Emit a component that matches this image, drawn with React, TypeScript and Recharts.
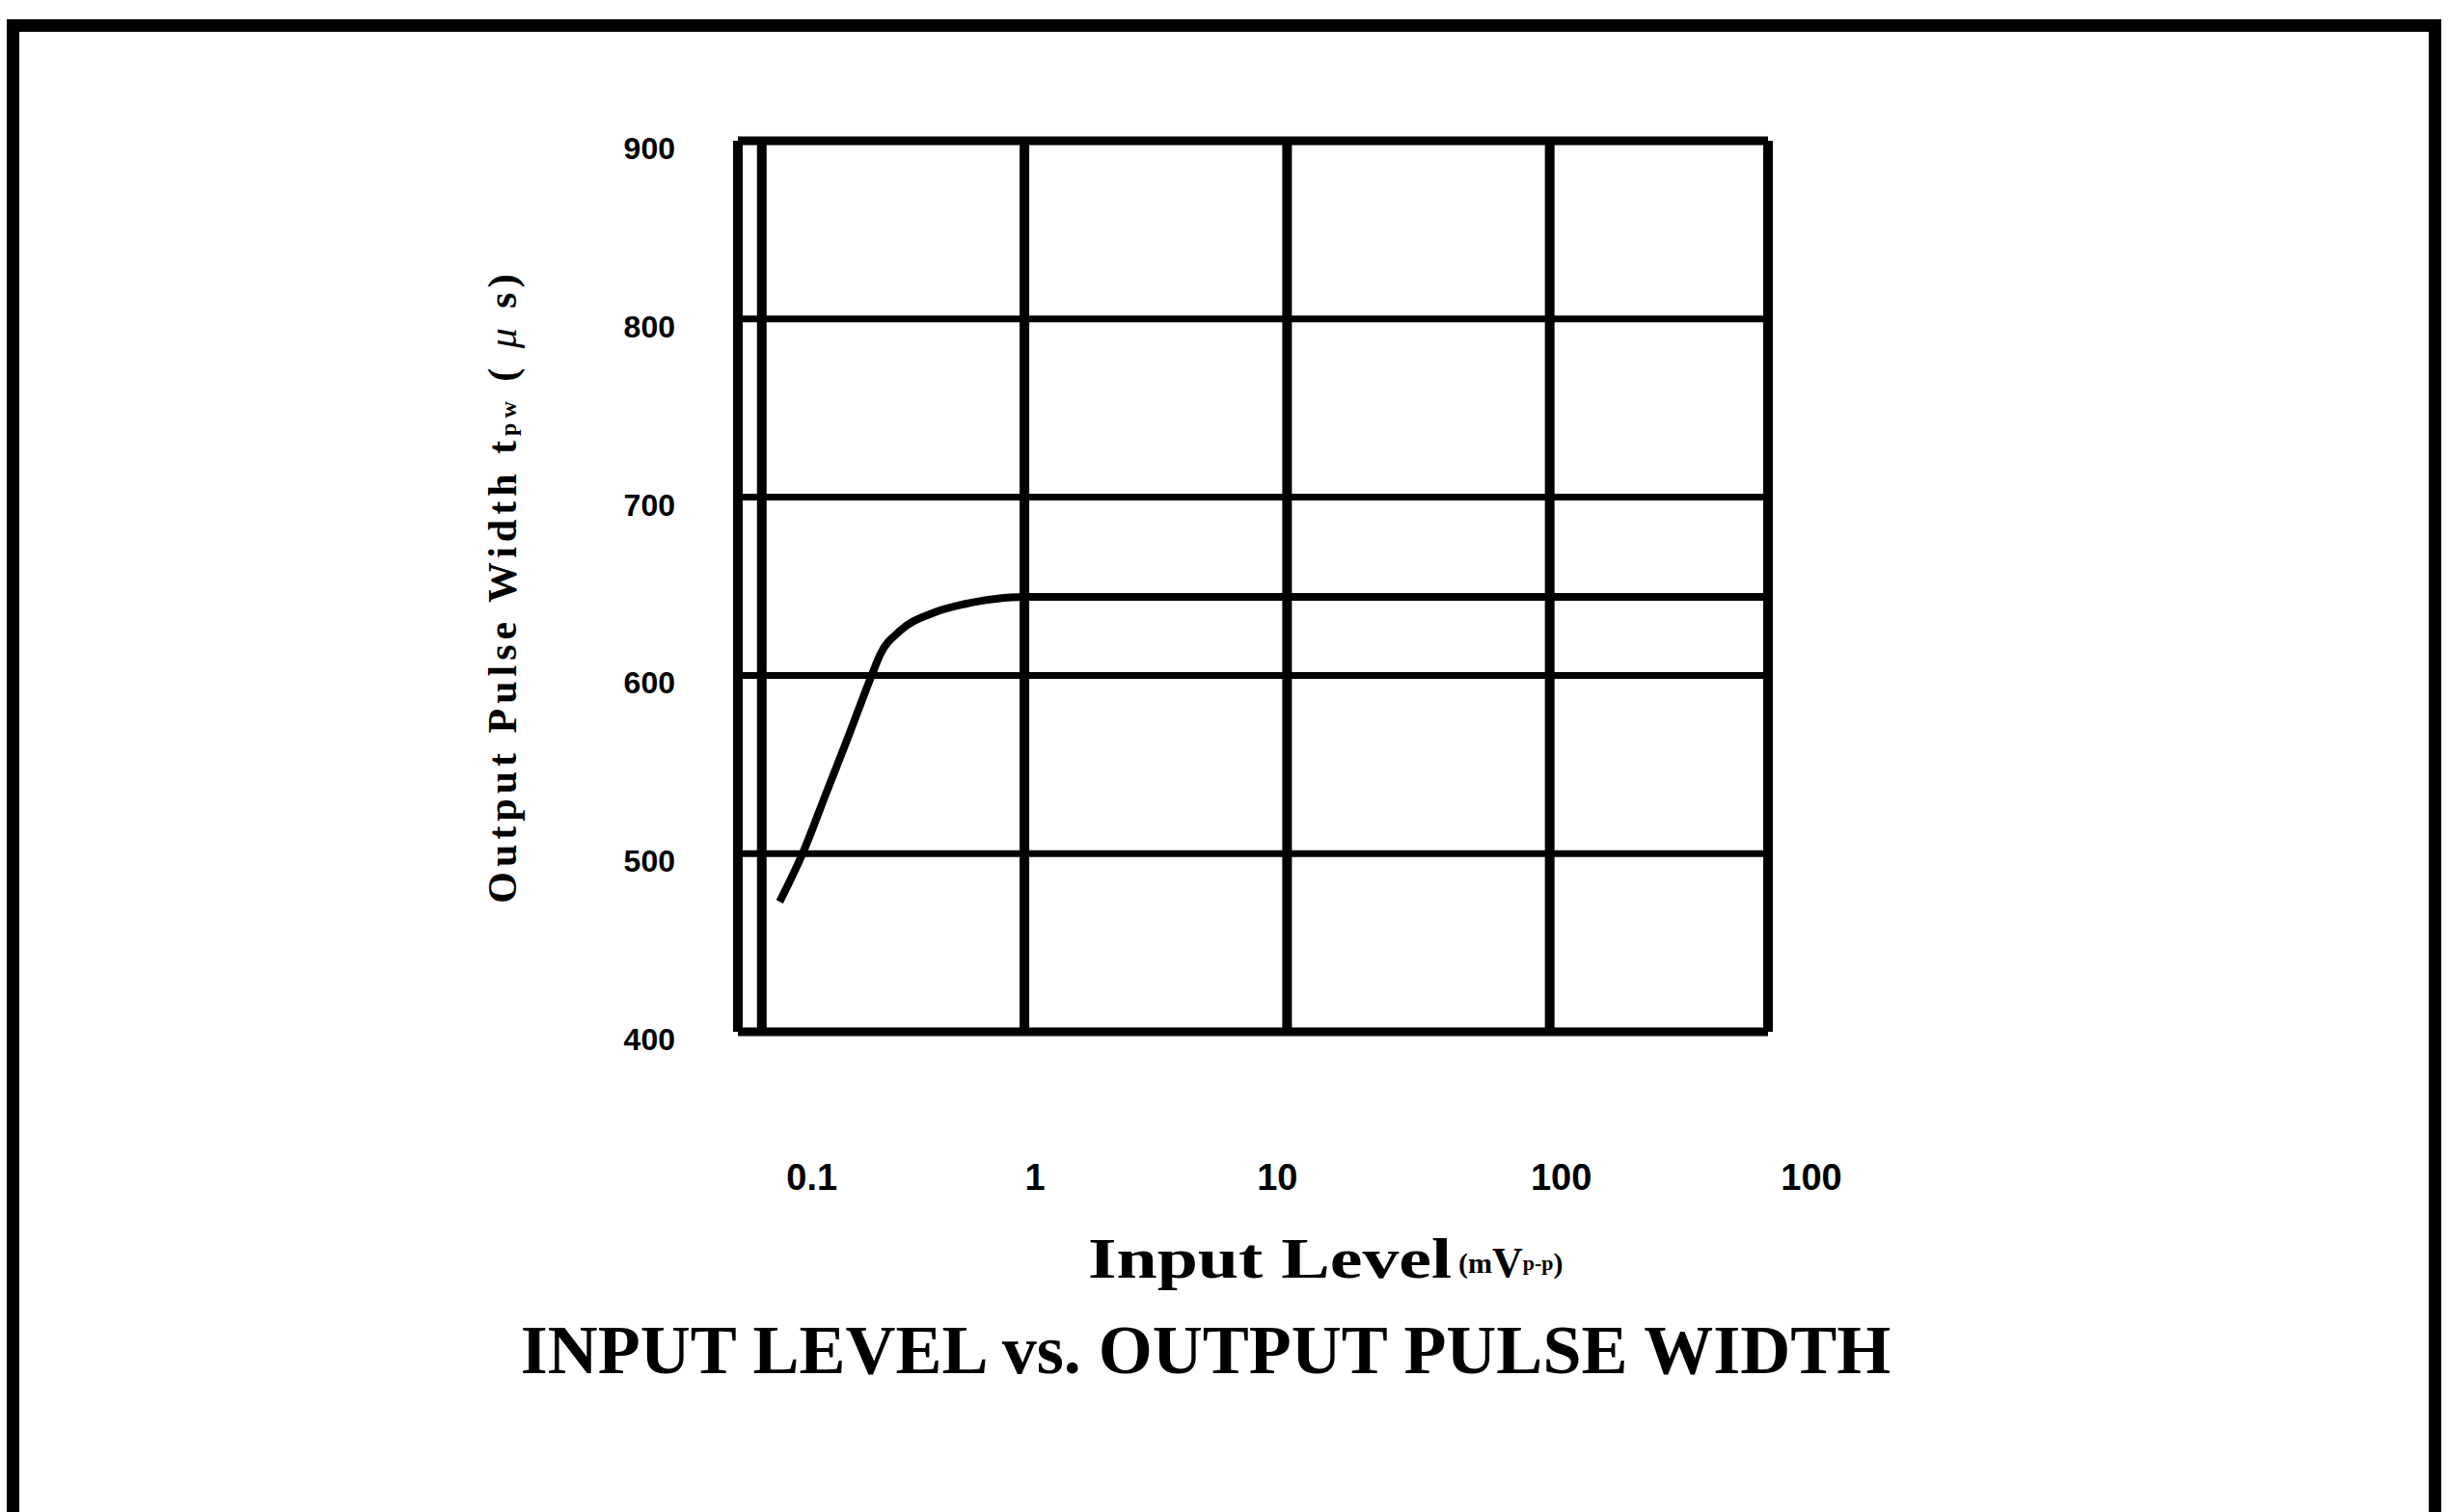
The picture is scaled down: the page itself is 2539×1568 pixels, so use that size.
import React from 'react';
import { LineChart, Line, XAxis, YAxis, ReferenceLine, Label } from 'recharts';

// Input level (mVp-p) vs output pulse width (µs)
const curve = [
  { level: 0.117, width: 473 },
  { level: 0.143, width: 500 },
  { level: 0.176, width: 534 },
  { level: 0.214, width: 566 },
  { level: 0.262, width: 600 },
  { level: 0.283, width: 612 },
  { level: 0.336, width: 625 },
  { level: 0.448, width: 635 },
  { level: 0.59, width: 640 },
  { level: 0.78, width: 643 },
  { level: 1, width: 644 },
  { level: 10, width: 644 },
  { level: 100, width: 644 },
  { level: 678, width: 644 },
];

const xDomain = [0.0811, 678];
const yDomain = [400, 900];
const xGrid = [0.1, 1, 10, 100];
const xTicks = [0.1, 1, 10, 100, 678];
const xTickLabels = ['0.1', '1', '10', '100', '100'];
const yTicks = [400, 500, 600, 700, 800, 900];
const yGrid = [500, 600, 700, 800];

// the original labels were placed by hand, slightly off their gridlines
const xLabelNudge = [52, 11, -10, 12, 45];

const W = 2539;
const H = 1568;
const serif = '"Liberation Serif", "Times New Roman", serif';
const sans = '"Liberation Sans", Arial, sans-serif';
const narrow = '"Liberation Sans Narrow", "Liberation Sans", Arial, sans-serif';

function XTick(props: any) {
  const { x, y, payload } = props;
  const i = xTicks.indexOf(payload.value);
  return (
    <text
      x={x + (xLabelNudge[i] || 0)}
      y={y + 151}
      textAnchor="middle"
      dominantBaseline="central"
      fontFamily={narrow}
      fontWeight="bold"
      fontSize={38}
      fill="#000"
    >
      {xTickLabels[i]}
    </text>
  );
}

function YTick(props: any) {
  const { x, y, payload } = props;
  return (
    <text
      x={x - 65}
      y={y + 8}
      textAnchor="end"
      dominantBaseline="central"
      fontFamily={sans}
      fontWeight="bold"
      fontSize={32}
      fill="#000"
    >
      {payload.value}
    </text>
  );
}

function YTitle(props: any) {
  const vb = props.viewBox;
  const cx = vb.x + vb.width - 244;
  const cy = vb.y + vb.height / 2;
  return (
    <text
      x={cx}
      y={cy}
      transform={`rotate(-90 ${cx} ${cy})`}
      textAnchor="middle"
      dominantBaseline="central"
      fontFamily={serif}
      fontWeight="bold"
      fontSize={42}
      letterSpacing={5}
      fill="#000"
    >
      Output Pulse Width t
      <tspan fontSize={24} dy={6}>pw</tspan>
      <tspan dy={-6}> ( </tspan>
      <tspan fontStyle="italic" fontWeight="normal">μ</tspan>
      <tspan> s)</tspan>
    </text>
  );
}

function XTitle(props: any) {
  const vb = props.viewBox;
  const left = vb.x + 363;
  const cy = vb.y + 235;
  return (
    <g fontFamily={serif} fontWeight="bold" fill="#000">
      <text
        x={left}
        y={cy}
        dominantBaseline="central"
        fontSize={60}
        textLength={377}
        lengthAdjust="spacingAndGlyphs"
      >
        Input Level
      </text>
      <text x={left + 384} y={cy + 4} dominantBaseline="central">
        <tspan fontSize={30}>(m</tspan>
        <tspan fontSize={44}>V</tspan>
        <tspan fontSize={22}>p-p</tspan>
        <tspan fontSize={30}>)</tspan>
      </text>
    </g>
  );
}

export default function App() {
  return (
    <div
      style={{
        position: 'absolute',
        left: 0,
        top: 0,
        width: W,
        height: H,
        overflow: 'hidden',
        background: '#fff',
      }}
    >
      <div
        style={{
          position: 'absolute',
          left: 7,
          top: 20,
          width: 2524,
          height: 1700,
          border: '13px solid #000',
          boxSizing: 'border-box',
        }}
      />
      <div style={{ position: 'absolute', left: 0, top: 0 }}>
        <LineChart
          width={W}
          height={H}
          data={curve}
          margin={{ top: 146, right: 706, bottom: 398, left: 665 }}
        >
          <XAxis
            dataKey="level"
            type="number"
            scale="log"
            domain={xDomain}
            allowDataOverflow
            ticks={xTicks}
            tick={<XTick />}
            tickLine={false}
            axisLine={false}
            tickSize={0}
            tickMargin={0}
            height={100}
            interval={0}
          >
            <Label content={<XTitle />} />
          </XAxis>
          <YAxis
            type="number"
            domain={yDomain}
            ticks={yTicks}
            tick={<YTick />}
            tickLine={false}
            axisLine={false}
            tickSize={0}
            tickMargin={0}
            width={100}
            interval={0}
          >
            <Label content={<YTitle />} />
          </YAxis>
          {yGrid.map((v) => (
            <ReferenceLine key={'h' + v} y={v} stroke="#000" strokeWidth={7} />
          ))}
          {xGrid.map((v) => (
            <ReferenceLine key={'v' + v} x={v} stroke="#000" strokeWidth={10} />
          ))}
          <ReferenceLine x={xDomain[0]} stroke="#000" strokeWidth={10} />
          <ReferenceLine x={xDomain[1]} stroke="#000" strokeWidth={10} />
          <ReferenceLine y={yDomain[0]} stroke="#000" strokeWidth={9} />
          <ReferenceLine y={yDomain[1]} stroke="#000" strokeWidth={9} />
          <Line
            type="monotone"
            dataKey="width"
            stroke="#000"
            strokeWidth={8}
            dot={false}
            isAnimationActive={false}
          />
        </LineChart>
      </div>
      <div
        style={{
          position: 'absolute',
          left: 1250,
          top: 1400,
          transform: 'translate(-50%, -50%)',
          whiteSpace: 'nowrap',
          fontFamily: serif,
          fontWeight: 'bold',
          fontSize: 72,
          color: '#000',
        }}
      >
        INPUT LEVEL vs. OUTPUT PULSE WIDTH
      </div>
    </div>
  );
}
